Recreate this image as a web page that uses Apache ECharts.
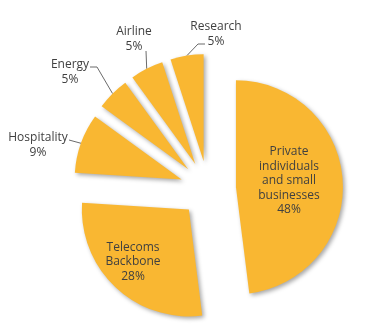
<!DOCTYPE html>
<html>
<head>
<meta charset="utf-8">
<script src="https://cdn.jsdelivr.net/npm/echarts@6/dist/echarts.min.js"></script>
<style>
  html, body { margin: 0; padding: 0; background: #ffffff; }
  #chart { width: 380px; height: 336px; }
</style>
</head>
<body>
<div id="chart"></div>
<script>
// Market segments and their share of the total, in percent
const sectors = ['Private\nindividuals\nand small\nbusinesses', 'Telecoms\nBackbone', 'Hospitality', 'Energy', 'Airline', 'Research'];
const shares = [48, 28, 9, 5, 5, 5];

// Pie geometry: every slice is pulled out from the common centre
const CX = 208, CY = 189, R = 107, EXPLODE = 28;
const SLICE_COLOR = '#F9B732';
const TEXT_COLOR = '#404040';

const total = shares.reduce((a, b) => a + b, 0);
// Mid angle of each slice, degrees clockwise from 12 o'clock
const mids = [];
let acc = 0;
shares.forEach(v => {
  const span = v / total * 360;
  mids.push(acc + span / 2);
  acc += span;
});
const dir = a => [Math.sin(a * Math.PI / 180), -Math.cos(a * Math.PI / 180)];

// Where each label block sits; outside labels also get the bend points of their leader line
const labelSpots = [
  { x: 289, y: 181 },
  { x: 133, y: 262 },
  { x: 38, y: 145, bends: [[69, 140]] },
  { x: 70, y: 72, bends: [[97, 67], [90, 67]] },
  { x: 134, y: 39, bends: [[146, 51]] },
  { x: 216, y: 34, bends: [[198, 44], [205, 44]] }
];

const series = shares.map((v, i) => {
  const d = dir(mids[i]);
  const outside = i >= 2;
  return {
    type: 'pie',
    silent: true,
    animation: false,
    center: [CX + EXPLODE * d[0], CY + EXPLODE * d[1]],
    radius: [0, R],
    startAngle: 90,
    clockwise: true,
    avoidLabelOverlap: false,
    emphasis: { disabled: true },
    label: {
      position: outside ? 'outside' : 'inside',
      formatter: '{b}\n{c}%',
      color: TEXT_COLOR,
      fontFamily: 'Open Sans',
      fontSize: 12,
      lineHeight: 14.5,
      align: 'center'
    },
    labelLine: {
      lineStyle: { color: '#6b6b6b', width: 1 }
    },
    labelLayout: p => {
      if (p.dataIndex !== i) return {};
      const spot = labelSpots[i];
      const out = { x: spot.x, y: spot.y, align: 'center', verticalAlign: 'middle' };
      if (outside) {
        const start = [CX + (R + EXPLODE) * d[0], CY + (R + EXPLODE) * d[1]];
        out.labelLinePoints = [start].concat(spot.bends);
      }
      return out;
    },
    data: sectors.map((name, j) => ({
      name: name,
      value: shares[j],
      itemStyle: j === i
        ? { color: SLICE_COLOR, shadowBlur: 4, shadowOffsetX: 2, shadowOffsetY: 2, shadowColor: 'rgba(0,0,0,0.35)' }
        : { color: 'rgba(0,0,0,0)', shadowBlur: 0, shadowColor: 'rgba(0,0,0,0)' },
      label: { show: j === i },
      labelLine: { show: j === i && outside }
    }))
  };
});

const chart = echarts.init(document.getElementById('chart'), null, { renderer: 'canvas' });
chart.setOption({
  backgroundColor: '#ffffff',
  animation: false,
  series: series
});
</script>
</body>
</html>
